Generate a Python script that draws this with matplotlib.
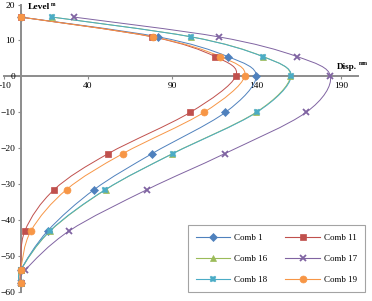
import matplotlib
matplotlib.use('Agg')
import matplotlib.pyplot as plt
from matplotlib.path import Path
from matplotlib.patches import PathPatch
from matplotlib.lines import Line2D

plt.rcParams['font.family'] = ['Liberation Serif', 'DejaVu Serif']

# level (m) of each reading, top to bottom
levels = [16.5, 11, 5.5, 0, -10, -21.5, -31.5, -43, -54, -57.5]

# displacement (mm) per load combination
comb_1 = [0, 81.5, 122.9, 139.7, 121.4, 77.9, 43.6, 16.0, 0, 0]
comb_11 = [0, 78.0, 115.4, 127.5, 100.6, 51.9, 19.9, 2.5, 0, 0]
comb_16 = [18.7, 101.3, 143.8, 160.0, 139.6, 90.0, 50.5, 17.6, 0, 0]
comb_17 = [31.6, 117.4, 164.0, 183.7, 169.3, 121.0, 75.0, 28.8, 2.5, 0]
comb_18 = [18.7, 101.0, 143.6, 160.4, 140.0, 90.2, 50.3, 17.3, 0, 0]
comb_19 = [0, 78.5, 118.4, 132.8, 108.7, 60.6, 27.2, 6.1, 0, 0]

series = [
    ('Comb 1', comb_1, '#4F81BD', 'D', 4.2, 0.5),
    ('Comb 11', comb_11, '#C0504D', 's', 5.0, 0.5),
    ('Comb 16', comb_16, '#9BBB59', '^', 5.0, 0.5),
    ('Comb 17', comb_17, '#8064A2', 'x', 4.5, 1.3),
    ('Comb 18', comb_18, '#4BACC6', 'X', 5.0, 0.3),
    ('Comb 19', comb_19, '#F79646', 'o', 5.0, 0.5),
]


def smooth_path(xs, ys):
    # Excel-like smoothed line: Catmull-Rom segments as cubic Beziers
    pts = list(zip(xs, ys))
    verts = [pts[0]]
    codes = [Path.MOVETO]
    n = len(pts)
    for i in range(n - 1):
        p0 = pts[max(i - 1, 0)]
        p1 = pts[i]
        p2 = pts[i + 1]
        p3 = pts[min(i + 2, n - 1)]
        c1 = (p1[0] + (p2[0] - p0[0]) / 6, p1[1] + (p2[1] - p0[1]) / 6)
        c2 = (p2[0] - (p3[0] - p1[0]) / 6, p2[1] - (p3[1] - p1[1]) / 6)
        verts += [c1, c2, p2]
        codes += [Path.CURVE4] * 3
    return Path(verts, codes)


fig = plt.figure(figsize=(3.72, 3.01), dpi=100)
ax = fig.add_axes([0.0102, 0.030, 0.952, 0.955])

handles = {}
for name, vals, color, mk, ms, mew in series:
    ax.add_patch(PathPatch(smooth_path(vals, levels), fill=False,
                           edgecolor=color, lw=0.7, zorder=2))
    ax.plot(vals, levels, linestyle='none', marker=mk, ms=ms,
            color=color, mec=color, mew=mew, zorder=3)
    handles[name] = Line2D([], [], color=color, lw=0.8, marker=mk,
                           ms=ms, mec=color, mew=mew)

ax.set_xlim(-10, 200)
ax.set_ylim(-60, 20)
ax.set_xticks([-10, 40, 90, 140, 190])
ax.set_yticks(range(-60, 21, 10))

for side in ['top', 'right']:
    ax.spines[side].set_visible(False)
ax.spines['left'].set_position(('data', 0))
ax.spines['bottom'].set_position(('data', 0))
for side in ['left', 'bottom']:
    ax.spines[side].set_color('#8C8C8C')
    ax.spines[side].set_linewidth(1.4)
    ax.spines[side].set_zorder(1)
ax.tick_params(axis='both', labelsize=6.8, length=2.5, width=0.8,
               color='#8C8C8C', pad=1.5)

ax.text(4.3, 19.3, 'Level', fontsize=6.8, fontweight='bold', va='center')
ax.text(18.2, 20.1, 'm', fontsize=4, fontweight='bold', va='center')
ax.text(187.3, 2.5, 'Disp.', fontsize=6.6, fontweight='bold', va='center')
ax.text(200.3, 3.6, 'mm', fontsize=4, fontweight='bold', va='center',
        clip_on=False)

order = ['Comb 1', 'Comb 16', 'Comb 18', 'Comb 11', 'Comb 17', 'Comb 19']
leg = ax.legend([handles[k] for k in order], order, ncol=2, fontsize=6.5,
                loc='lower right', bbox_to_anchor=(1.02, 0.0),
                borderaxespad=0, frameon=True, fancybox=False,
                edgecolor='#8C8C8C', handlelength=3.8, columnspacing=2.0,
                labelspacing=1.4, borderpad=0.9, handletextpad=0.45)
leg.get_frame().set_linewidth(0.8)

fig.savefig('out.png', dpi=100)
